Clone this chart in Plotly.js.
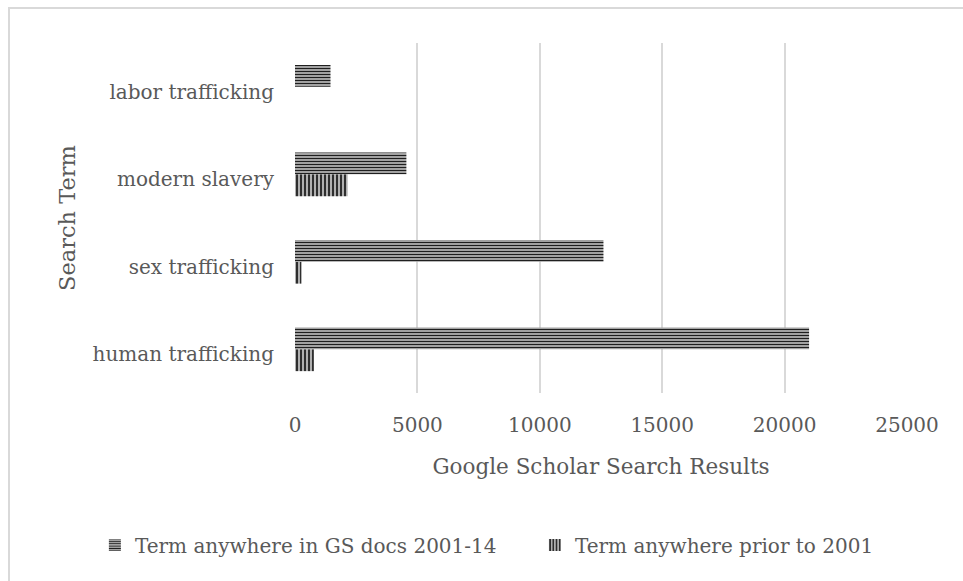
<!DOCTYPE html>
<html>
<head>
<meta charset="utf-8">
<script src="https://cdn.plot.ly/plotly-3.0.1.min.js"></script>
<style>
  html, body { margin: 0; padding: 0; background: #ffffff; }
  #frame {
    position: absolute; left: 8px; top: 7px; width: 1000px; height: 600px;
    border-left: 2px solid #d9d9d9; border-top: 2px solid #d9d9d9;
  }
  #chart { position: absolute; left: 0; top: 0; width: 963px; height: 581px; }
</style>
</head>
<body>
<div id="frame"></div>
<div id="chart"></div>
<script>
// Search terms, bottom to top on the category axis
const searchTerms = ["human trafficking", "sex trafficking", "modern slavery", "labor trafficking"];

// Google Scholar hit counts per term
const docs2001to14 = [21000, 12600, 4550, 1450];
const priorTo2001 = [770, 260, 2150, 0];

const seriesNames = ["Term anywhere in GS docs 2001-14", "Term anywhere prior to 2001"];

const xTicks = [0, 5000, 10000, 15000, 20000, 25000];

const textColor = "#595959";
const fontFamily = "DejaVu Serif, serif";

// Older counts drawn first so they sit below the newer ones in each group
const tracePrior = {
  type: "bar",
  orientation: "h",
  name: seriesNames[1],
  legend: "legend2",
  y: searchTerms,
  x: priorTo2001,
  marker: {
    color: "#333333",
    line: { width: 0 },
    pattern: { shape: "|", size: 4, solidity: 0.45, fgcolor: "#1f1f1f", bgcolor: "#b0b0b0", fillmode: "replace" }
  },
  hoverinfo: "x+name"
};

const traceRecent = {
  type: "bar",
  orientation: "h",
  name: seriesNames[0],
  legend: "legend",
  y: searchTerms,
  x: docs2001to14,
  marker: {
    color: "#333333",
    line: { width: 0 },
    pattern: { shape: "-", size: 3, solidity: 0.4, fgcolor: "#1f1f1f", bgcolor: "#b0b0b0", fillmode: "replace" }
  },
  hoverinfo: "x+name"
};

const legendFont = { family: fontFamily, color: textColor, size: 20 };

const layout = {
  width: 963,
  height: 581,
  margin: { l: 295, r: 56, t: 43, b: 188 },
  paper_bgcolor: "rgba(0,0,0,0)",
  plot_bgcolor: "rgba(0,0,0,0)",
  barmode: "group",
  bargap: 0.5,
  bargroupgap: 0,
  font: { family: fontFamily, color: textColor, size: 20 },
  showlegend: true,
  legend: {
    orientation: "h",
    x: -0.327,
    xanchor: "left",
    y: -0.434,
    yanchor: "middle",
    font: legendFont
  },
  legend2: {
    orientation: "h",
    x: 0.392,
    xanchor: "left",
    y: -0.434,
    yanchor: "middle",
    font: legendFont
  },
  xaxis: {
    range: [0, 25000],
    tickvals: xTicks,
    ticktext: xTicks.map(String),
    showgrid: true,
    gridcolor: "#d9d9d9",
    gridwidth: 2,
    zeroline: false,
    showline: false,
    ticks: "",
    ticklabelstandoff: 18,
    tickfont: { family: fontFamily, color: textColor, size: 20 },
    title: {
      text: "Google Scholar Search Results",
      font: { family: fontFamily, color: textColor, size: 21.5 },
      standoff: 22
    }
  },
  yaxis: {
    type: "category",
    categoryorder: "array",
    categoryarray: searchTerms,
    showgrid: false,
    zeroline: false,
    showline: false,
    ticks: "",
    ticklabelstandoff: 20,
    ticklabelshift: 5,
    tickfont: { family: fontFamily, color: textColor, size: 20 },
    title: {
      text: "Search Term",
      font: { family: fontFamily, color: textColor, size: 22.5 },
      standoff: 10
    }
  }
};

Plotly.newPlot("chart", [tracePrior, traceRecent], layout, { displayModeBar: false, staticPlot: true });
</script>
</body>
</html>
